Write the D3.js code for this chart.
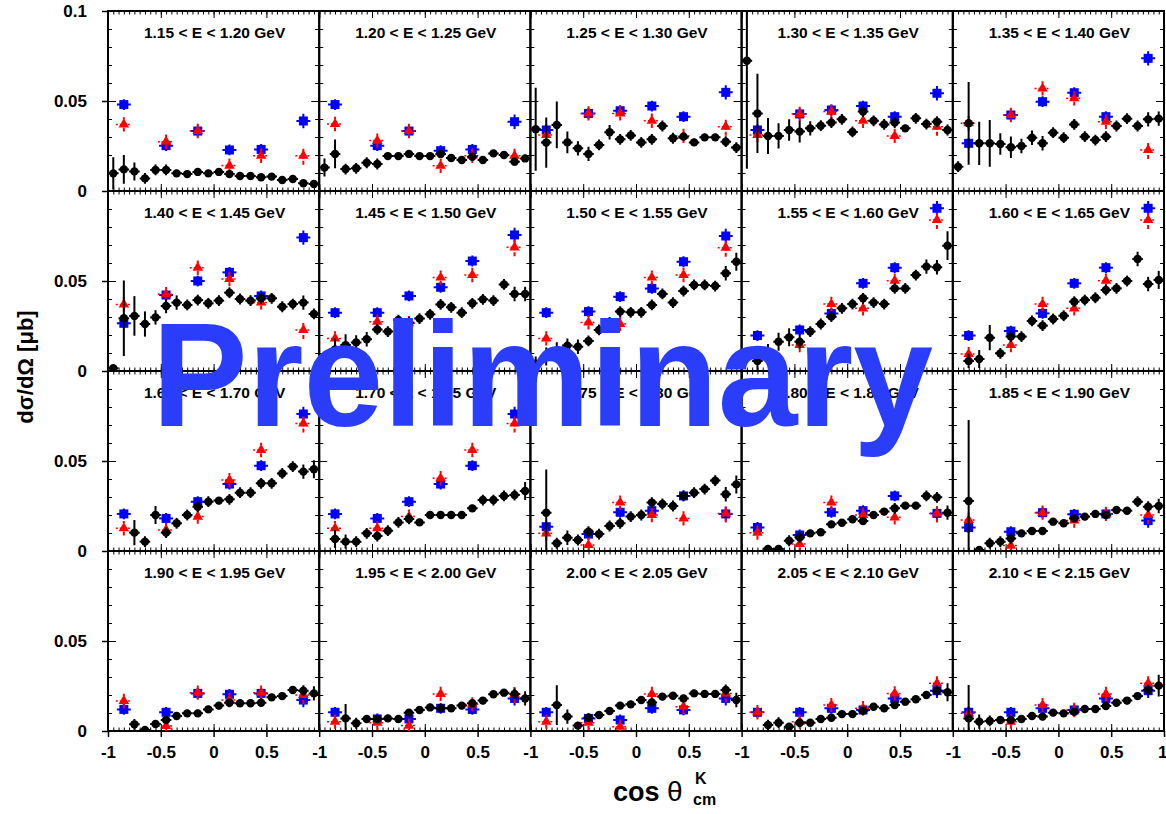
<!DOCTYPE html>
<html>
<head>
<meta charset="utf-8">
<script src="https://cdn.jsdelivr.net/npm/d3@7"></script>
<style>
  body { margin: 0; background: #fff; }
  svg text { font-family: "Liberation Sans", Arial, Helvetica, sans-serif; font-weight: bold; }
</style>
</head>
<body>
<svg id="chart" width="1166" height="814"></svg>
<script>

// Energy bins, one per pad
const energyBins = [
  "1.15 < E < 1.20 GeV", "1.20 < E < 1.25 GeV", "1.25 < E < 1.30 GeV", "1.30 < E < 1.35 GeV", "1.35 < E < 1.40 GeV",
  "1.40 < E < 1.45 GeV", "1.45 < E < 1.50 GeV", "1.50 < E < 1.55 GeV", "1.55 < E < 1.60 GeV", "1.60 < E < 1.65 GeV",
  "1.65 < E < 1.70 GeV", "1.70 < E < 1.75 GeV", "1.75 < E < 1.80 GeV", "1.80 < E < 1.85 GeV", "1.85 < E < 1.90 GeV",
  "1.90 < E < 1.95 GeV", "1.95 < E < 2.00 GeV", "2.00 < E < 2.05 GeV", "2.05 < E < 2.10 GeV", "2.10 < E < 2.15 GeV"
];

// cos theta bin centres
const cosFine = [ -0.95, -0.85, -0.75, -0.65, -0.55, -0.45, -0.35, -0.25, -0.15, -0.05,
                  0.05, 0.15, 0.25, 0.35, 0.45, 0.55, 0.65, 0.75, 0.85, 0.95 ];
const cosCoarse = [ -0.85, -0.45, -0.15, 0.15, 0.45, 0.85 ];
const cosHalfWidth = 0.05;

// black points (this measurement)
const blackValues = [
  [0.0098,0.012,0.0109,0.007,0.0117,0.0117,0.0098,0.0094,0.0106,0.0098,0.0106,0.0094,0.0083,0.0083,0.0076,0.008,0.0061,0.0067,0.0043,0.0039],
  [0.013,0.0206,0.0122,0.0126,0.0157,0.015,0.0194,0.0194,0.0206,0.0194,0.0194,0.0206,0.0183,0.0172,0.019,0.0172,0.0209,0.02,0.0163,0.0181],
  [0.0343,0.0269,0.0367,0.027,0.0237,0.0206,0.0256,0.0326,0.0287,0.0309,0.027,0.0287,0.0361,0.0293,0.0302,0.027,0.0298,0.0298,0.0274,0.0241],
  [0.0724,0.0431,0.0306,0.0306,0.0339,0.033,0.0348,0.0363,0.038,0.0398,0.0328,0.0441,0.039,0.037,0.038,0.0348,0.0404,0.0372,0.0385,0.0339],
  [0.0135,0.0376,0.0265,0.0265,0.0261,0.0243,0.025,0.0296,0.0265,0.0324,0.0296,0.037,0.0302,0.0283,0.0302,0.0361,0.0402,0.0361,0.0398,0.0402],
  [0.0015,0.0293,0.0306,0.0261,0.0298,0.0361,0.038,0.0367,0.0394,0.0376,0.0391,0.0435,0.04,0.0391,0.0404,0.0404,0.0357,0.0372,0.038,0.0317],
  [0.0,0.012,0.0144,0.0159,0.0176,0.0231,0.0219,0.0283,0.027,0.0291,0.0315,0.037,0.0354,0.0324,0.0376,0.0398,0.0391,0.0481,0.0428,0.0428],
  [0.004,0.008,0.011,0.0141,0.0135,0.0167,0.0228,0.027,0.033,0.0326,0.0326,0.0367,0.0428,0.038,0.0444,0.0478,0.0478,0.0472,0.0543,0.0607],
  [null,0.0056,0.01,0.0163,0.0187,0.0163,0.0219,0.0261,0.0302,0.0348,0.0372,0.0404,0.038,0.0372,0.0459,0.0459,0.0533,0.058,0.0576,0.0696],
  [null,0.0056,0.0067,0.0185,0.0098,0.0191,0.0191,0.0278,0.0252,0.0289,0.0307,0.0385,0.0394,0.0407,0.045,0.0459,0.05,0.0622,0.0483,0.0506],
  [null,null,0.0102,0.0052,0.02,0.0102,0.0154,0.02,0.0246,0.0274,0.028,0.0287,0.0324,0.0324,0.0376,0.0376,0.0431,0.0469,0.0441,0.0454],
  [null,0.0067,0.0052,0.0052,0.0098,0.0083,0.0113,0.0159,0.0178,0.0159,0.02,0.02,0.02,0.02,0.0237,0.0283,0.0283,0.0306,0.0311,0.0333],
  [null,0.0213,0.0043,0.0074,0.0061,0.0107,0.0094,0.0139,0.0154,0.0191,0.02,0.0269,0.0261,0.025,0.0306,0.0324,0.0344,0.0391,0.0315,0.037],
  [null,null,0.0011,0.0011,0.0057,0.0076,0.0098,0.0104,0.0148,0.0157,0.0176,0.0167,0.02,0.0219,0.0237,0.0252,0.0252,0.0306,0.0298,0.0213],
  [null,0.0278,0.0006,0.0043,0.0052,0.007,0.0098,0.0111,0.0111,0.0163,0.0154,0.0181,0.0191,0.0206,0.02,0.0228,0.0224,0.0274,0.0246,0.025],
  [null,null,0.0037,0.0006,0.0039,0.0061,0.0083,0.0098,0.0098,0.012,0.0141,0.0157,0.0154,0.0154,0.0157,0.0187,0.0194,0.0228,0.0224,0.0209],
  [null,null,0.007,0.0043,0.0067,0.0067,0.007,0.0067,0.0102,0.0117,0.0131,0.0126,0.0126,0.0141,0.0154,0.0169,0.0204,0.0213,0.0206,0.0181],
  [null,null,0.0144,0.008,0.003,0.0074,0.0089,0.0111,0.0141,0.0148,0.0172,0.0159,0.0191,0.0196,0.0181,0.0209,0.0206,0.0206,0.0228,0.0172],
  [null,null,0.0033,0.0046,0.0024,0.0046,0.0046,0.0067,0.0074,0.0094,0.0094,0.0113,0.0135,0.0126,0.0144,0.0163,0.0176,0.02,0.0224,0.0215],
  [null,0.007,0.0052,0.0056,0.0061,0.0061,0.0067,0.0083,0.008,0.0102,0.0098,0.0107,0.0122,0.0122,0.0139,0.0157,0.0169,0.0194,0.0228,0.0252]
];

const blackErrors = [
  [0.009,0.008,0.005,0.003,0.003,0.003,0.002,0.002,0.002,0.0015,0.0015,0.0015,0.0015,0.0015,0.0015,0.0015,0.0015,0.0015,0.0015,0.0015],
  [0.005,0.008,0.003,0.003,0.003,0.003,0.002,0.002,0.002,0.002,0.002,0.002,0.002,0.002,0.002,0.002,0.002,0.002,0.002,0.002],
  [0.023,0.014,0.013,0.006,0.004,0.004,0.003,0.004,0.003,0.003,0.003,0.003,0.003,0.003,0.002,0.002,0.002,0.002,0.003,0.003],
  [0.06,0.022,0.01,0.007,0.006,0.006,0.004,0.003,0.003,0.003,0.003,0.003,0.003,0.003,0.003,0.002,0.003,0.003,0.003,0.003],
  [0.003,0.023,0.012,0.013,0.006,0.006,0.004,0.004,0.004,0.003,0.003,0.003,0.003,0.003,0.003,0.003,0.003,0.003,0.004,0.004],
  [0.002,0.021,0.011,0.007,0.004,0.004,0.004,0.003,0.003,0.003,0.003,0.003,0.003,0.003,0.003,0.003,0.003,0.003,0.004,0.003],
  [0.002,0.006,0.006,0.004,0.004,0.003,0.003,0.003,0.003,0.003,0.003,0.003,0.003,0.003,0.003,0.003,0.003,0.003,0.004,0.004],
  [0.004,0.005,0.005,0.004,0.004,0.003,0.003,0.003,0.003,0.003,0.003,0.003,0.003,0.003,0.003,0.003,0.003,0.003,0.004,0.005],
  [0,0.005,0.005,0.005,0.005,0.004,0.003,0.003,0.003,0.003,0.003,0.003,0.003,0.003,0.003,0.003,0.003,0.004,0.004,0.008],
  [0,0.004,0.005,0.007,0.003,0.003,0.003,0.003,0.003,0.003,0.003,0.003,0.003,0.003,0.003,0.003,0.003,0.004,0.004,0.005],
  [0,0,0.007,0.003,0.005,0.003,0.003,0.003,0.003,0.003,0.002,0.003,0.003,0.003,0.003,0.003,0.003,0.003,0.004,0.005],
  [0,0.005,0.004,0.003,0.003,0.003,0.003,0.003,0.003,0.002,0.002,0.002,0.002,0.002,0.002,0.003,0.003,0.003,0.003,0.005],
  [0,0.024,0.003,0.004,0.003,0.003,0.003,0.003,0.003,0.003,0.003,0.003,0.003,0.003,0.003,0.003,0.003,0.003,0.004,0.005],
  [0,0,0.002,0.002,0.003,0.003,0.002,0.002,0.002,0.002,0.002,0.002,0.002,0.002,0.003,0.002,0.002,0.003,0.003,0.004],
  [0,0.045,0.002,0.003,0.003,0.003,0.002,0.002,0.002,0.002,0.002,0.002,0.002,0.002,0.002,0.002,0.002,0.003,0.003,0.004],
  [0,0,0.003,0.002,0.002,0.002,0.002,0.002,0.002,0.002,0.002,0.002,0.002,0.002,0.002,0.002,0.002,0.002,0.003,0.004],
  [0,0,0.008,0.003,0.002,0.002,0.002,0.002,0.002,0.002,0.002,0.002,0.002,0.002,0.002,0.002,0.002,0.002,0.003,0.004],
  [0,0,0.011,0.004,0.002,0.002,0.002,0.002,0.002,0.002,0.002,0.002,0.002,0.002,0.002,0.002,0.002,0.002,0.003,0.004],
  [0,0,0.003,0.003,0.002,0.002,0.002,0.002,0.002,0.002,0.002,0.002,0.002,0.002,0.002,0.002,0.002,0.002,0.003,0.005],
  [0,0.0185,0.004,0.003,0.002,0.002,0.002,0.002,0.002,0.002,0.002,0.002,0.002,0.002,0.002,0.002,0.002,0.002,0.003,0.006]
];

// blue squares
const blueValues = [
  [0.048,0.0252,0.0333,0.0228,0.0231,0.0389],
  [0.048,0.0252,0.0333,0.0224,0.0231,0.0385],
  [0.0339,0.0431,0.0446,0.0472,0.0413,0.0548],
  [0.0339,0.0428,0.045,0.0472,0.0413,0.0543],
  [0.0265,0.0422,0.0496,0.0546,0.0413,0.0737],
  [0.0265,0.0422,0.05,0.0548,0.0417,0.0741],
  [0.0324,0.0324,0.0417,0.0465,0.0611,0.0756],
  [0.0324,0.033,0.0413,0.0459,0.0607,0.075],
  [0.0197,0.0228,0.032,0.0487,0.0574,0.0904],
  [0.0197,0.0222,0.032,0.0487,0.0574,0.0904],
  [0.0206,0.0181,0.0274,0.0372,0.0474,0.0761],
  [0.0206,0.0181,0.0274,0.0372,0.0474,0.0761],
  [0.0135,0.0094,0.0215,0.0224,0.0306,0.0206],
  [0.0131,0.0089,0.0215,0.0224,0.0306,0.0209],
  [0.013,0.0107,0.0213,0.0204,0.0206,0.0169],
  [0.012,0.0104,0.0209,0.0204,0.0209,0.0172],
  [0.0104,0.0067,0.0067,0.0126,0.012,0.0181],
  [0.0104,0.007,0.0061,0.0126,0.0117,0.0181],
  [0.0104,0.0104,0.0126,0.0117,0.0181,0.0224],
  [0.0104,0.0104,0.0126,0.0117,0.0181,0.0224]
];
const blueErrors = [ 0.003, 0.003, 0.003, 0.003, 0.003, 0.004 ];

// red triangles
const redValues = [
  [0.037,0.0274,0.0333,0.0141,0.0196,0.0196],
  [0.0372,0.028,0.0333,0.014,0.0196,0.0196],
  [0.0311,0.0431,0.0431,0.039,0.0306,0.0357],
  [0.0311,0.0428,0.0441,0.039,0.0306,0.0357],
  [0.0376,0.0422,0.057,0.0515,0.0385,0.0228],
  [0.037,0.0426,0.0574,0.0511,0.0381,0.0228],
  [0.0181,0.0274,0.0265,0.0519,0.0533,0.0687],
  [0.0181,0.027,0.0261,0.0519,0.0533,0.0685],
  [0.0094,0.0144,0.0372,0.0348,0.0502,0.0839],
  [0.0094,0.0144,0.0372,0.0348,0.0502,0.0839],
  [0.0126,0.0117,0.0191,0.0394,0.0561,0.0709],
  [0.0126,0.0126,0.0191,0.0404,0.0561,0.0709],
  [0.0098,0.0033,0.0269,0.02,0.0181,0.0209],
  [0.0102,0.0039,0.0269,0.02,0.0187,0.0209],
  [0.0172,0.003,0.0213,0.0169,0.0206,0.02],
  [0.0167,0.0028,0.0213,0.0172,0.0213,0.02],
  [0.0052,0.0046,0.003,0.0206,0.0148,0.0206],
  [0.0052,0.0046,0.0024,0.0206,0.0135,0.0209],
  [0.0104,0.0052,0.0144,0.0126,0.0209,0.0265],
  [0.0098,0.0052,0.0144,0.0117,0.0206,0.0265]
];
const redErrors = [ 0.004, 0.004, 0.004, 0.004, 0.004, 0.005 ];

// tick labels
const xTickLabels = [ -1, -0.5, 0, 0.5 ];
const yTickLabels = [ 0, 0.05, 0.1 ];

// layout
const padLeft = 108, padTop = 11, padWidth = 211.2, padHeight = 180, nCols = 5;

const svg = d3.select( "#chart" );

function xScale( col ) {
  return d3.scaleLinear()
    .domain( [ -1, 1 ] )
    .range( [ padLeft + col * padWidth, padLeft + ( col + 1 ) * padWidth ] );
}

function yScale( row ) {
  return d3.scaleLinear()
    .domain( [ 0, 0.1 ] )
    .range( [ padTop + ( row + 1 ) * padHeight, padTop + row * padHeight ] );
}

function tickRow( g, axis, values, size ) {
  g.call( axis.tickValues( values ).tickSize( size ).tickSizeOuter( 0 ).tickFormat( "" ) );
  g.select( ".domain" ).remove();
  g.selectAll( "line" ).attr( "stroke", "#000" ).attr( "stroke-width", 1 );
}

const xMinor = d3.range( -20, 21 ).map( i => i / 20 );
const xMajor = [ -1, -0.5, 0, 0.5, 1 ];
const yMinor = d3.range( 0, 11 ).map( i => i / 100 );
const yMajor = [ 0, 0.05, 0.1 ];

const defs = svg.append( "defs" );

energyBins.forEach( ( label, p ) => {

  const col = p % nCols;
  const row = Math.floor( p / nCols );
  const x = xScale( col );
  const y = yScale( row );
  const x0 = x.range()[ 0 ], x1 = x.range()[ 1 ];
  const y0 = y.range()[ 1 ], y1 = y.range()[ 0 ];

  defs.append( "clipPath" )
    .attr( "id", "clip" + p )
    .append( "rect" )
      .attr( "x", x0 ).attr( "y", y0 )
      .attr( "width", x1 - x0 ).attr( "height", y1 - y0 );

  const pad = svg.append( "g" ).attr( "class", "pad" );

  // Drawing inner ticks on the four sides

  tickRow( pad.append( "g" ).attr( "transform", `translate(0,${ y1 })` ), d3.axisBottom( x ), xMinor, -3.5 );
  tickRow( pad.append( "g" ).attr( "transform", `translate(0,${ y1 })` ), d3.axisBottom( x ), xMajor, -7 );
  tickRow( pad.append( "g" ).attr( "transform", `translate(0,${ y0 })` ), d3.axisTop( x ), xMinor, -3.5 );
  tickRow( pad.append( "g" ).attr( "transform", `translate(0,${ y0 })` ), d3.axisTop( x ), xMajor, -7 );
  tickRow( pad.append( "g" ).attr( "transform", `translate(${ x0 },0)` ), d3.axisLeft( y ), yMinor, -4 );
  tickRow( pad.append( "g" ).attr( "transform", `translate(${ x0 },0)` ), d3.axisLeft( y ), yMajor, -8 );
  tickRow( pad.append( "g" ).attr( "transform", `translate(${ x1 },0)` ), d3.axisRight( y ), yMinor, -4 );
  tickRow( pad.append( "g" ).attr( "transform", `translate(${ x1 },0)` ), d3.axisRight( y ), yMajor, -8 );

  // Drawing the frame

  pad.append( "rect" )
    .attr( "x", x0 ).attr( "y", y0 )
    .attr( "width", x1 - x0 ).attr( "height", y1 - y0 )
    .attr( "fill", "none" )
    .attr( "stroke", "#000" )
    .attr( "stroke-width", 2 );

  // Energy label

  pad.append( "text" )
    .attr( "x", ( x0 + x1 ) / 2 + 1 )
    .attr( "y", y0 + 27 )
    .attr( "text-anchor", "middle" )
    .style( "font-size", "15.5px" )
    .text( label );

  const plot = pad.append( "g" ).attr( "clip-path", `url(#clip${ p })` );

  // Drawing blue squares

  const blue = plot.selectAll( "g.blue" )
    .data( cosCoarse.map( ( c, i ) => ( { c: c, v: blueValues[ p ][ i ], e: blueErrors[ i ] } ) ) )
    .enter().append( "g" )
      .attr( "class", "blue" );

  blue.append( "line" )
    .attr( "x1", d => x( d.c ) ).attr( "x2", d => x( d.c ) )
    .attr( "y1", d => y( d.v - d.e ) ).attr( "y2", d => y( d.v + d.e ) )
    .attr( "stroke", "#0000ff" ).attr( "stroke-width", 2 );

  blue.append( "line" )
    .attr( "x1", d => x( d.c ) - 7 ).attr( "x2", d => x( d.c ) + 7 )
    .attr( "y1", d => y( d.v ) ).attr( "y2", d => y( d.v ) )
    .attr( "stroke", "#0000ff" ).attr( "stroke-width", 2 );

  blue.append( "rect" )
    .attr( "x", d => x( d.c ) - 4.5 ).attr( "y", d => y( d.v ) - 4.5 )
    .attr( "width", 9 ).attr( "height", 9 )
    .attr( "fill", "#0000ff" );

  // Drawing red triangles

  const red = plot.selectAll( "g.red" )
    .data( cosCoarse.map( ( c, i ) => ( { c: c, v: redValues[ p ][ i ], e: redErrors[ i ] } ) ) )
    .enter().append( "g" )
      .attr( "class", "red" );

  red.append( "line" )
    .attr( "x1", d => x( d.c ) ).attr( "x2", d => x( d.c ) )
    .attr( "y1", d => y( d.v - d.e ) ).attr( "y2", d => y( d.v + d.e ) )
    .attr( "stroke", "#ff0000" ).attr( "stroke-width", 2 )
    .attr( "stroke-dasharray", "4,2" );

  red.append( "line" )
    .attr( "x1", d => x( d.c ) - 8 ).attr( "x2", d => x( d.c ) + 8 )
    .attr( "y1", d => y( d.v ) ).attr( "y2", d => y( d.v ) )
    .attr( "stroke", "#ff0000" ).attr( "stroke-width", 1.5 )
    .attr( "stroke-dasharray", "2,2" );

  red.append( "path" )
    .attr( "transform", d => `translate(${ x( d.c ) },${ y( d.v ) })` )
    .attr( "d", d3.symbol( d3.symbolTriangle, 48 ) )
    .attr( "fill", "#ff0000" );

  // Drawing black points

  const black = plot.selectAll( "g.black" )
    .data( cosFine.map( ( c, i ) => ( { c: c, v: blackValues[ p ][ i ], e: blackErrors[ p ][ i ] } ) )
      .filter( d => d.v !== null ) )
    .enter().append( "g" )
      .attr( "class", "black" );

  black.append( "line" )
    .attr( "x1", d => x( d.c ) ).attr( "x2", d => x( d.c ) )
    .attr( "y1", d => y( d.v - d.e ) ).attr( "y2", d => y( d.v + d.e ) )
    .attr( "stroke", "#000" ).attr( "stroke-width", 2 );

  black.append( "line" )
    .attr( "x1", d => x( d.c - cosHalfWidth ) ).attr( "x2", d => x( d.c + cosHalfWidth ) )
    .attr( "y1", d => y( d.v ) ).attr( "y2", d => y( d.v ) )
    .attr( "stroke", "#000" ).attr( "stroke-width", 2 );

  black.append( "circle" )
    .attr( "cx", d => x( d.c ) ).attr( "cy", d => y( d.v ) )
    .attr( "r", 4.2 )
    .attr( "fill", "#000" );

  // Axis labels on the outer pads

  if( col === 0 ) {
    const yAxis = svg.append( "g" )
      .attr( "transform", `translate(${ x0 },0)` )
      .call( d3.axisLeft( y )
        .tickValues( row === 0 ? yTickLabels : yTickLabels.slice( 0, 2 ) )
        .tickSize( 6 ).tickSizeOuter( 0 ).tickPadding( 15 )
        .tickFormat( d => String( d ) ) );
    yAxis.select( ".domain" ).remove();
    yAxis.selectAll( "line" ).attr( "stroke-width", 1.5 );
    yAxis.selectAll( "text" ).style( "font-size", "17px" ).attr( "fill", "#000" );
  }

  if( row === 3 ) {
    const xAxis = svg.append( "g" )
      .attr( "transform", `translate(0,${ y1 })` )
      .call( d3.axisBottom( x )
        .tickValues( col === nCols - 1 ? xTickLabels.concat( [ 1 ] ) : xTickLabels )
        .tickSize( 6 ).tickSizeOuter( 0 ).tickPadding( 9 )
        .tickFormat( d => String( d ) ) );
    xAxis.select( ".domain" ).remove();
    xAxis.selectAll( "line" ).attr( "stroke-width", 1.5 );
    xAxis.selectAll( "text" ).style( "font-size", "17px" ).attr( "fill", "#000" );
    // keep the last "1" inside the picture
    xAxis.selectAll( "text" ).filter( d => d === 1 )
      .attr( "text-anchor", "end" )
      .attr( "x", 3 );
  }

} );

// Axis titles

svg.append( "text" )
  .attr( "transform", "translate(33,367) rotate(-90)" )
  .attr( "text-anchor", "middle" )
  .style( "font-size", "22px" )
  .text( "dσ/dΩ [μb]" );

const xTitle = svg.append( "g" );

xTitle.append( "text" )
  .attr( "x", 613 ).attr( "y", 801 )
  .style( "font-size", "27px" )
  .text( "cos " )
  .append( "tspan" )
    .style( "font-weight", "normal" )
    .style( "font-size", "28px" )
    .text( "θ" );

xTitle.append( "text" )
  .attr( "x", 695 ).attr( "y", 784 )
  .style( "font-size", "16px" )
  .text( "K" );

xTitle.append( "text" )
  .attr( "x", 693 ).attr( "y", 805 )
  .style( "font-size", "16px" )
  .text( "cm" );

// Preliminary stamp

svg.append( "text" )
  .attr( "x", 152 ).attr( "y", 426 )
  .attr( "textLength", 781 )
  .attr( "lengthAdjust", "spacingAndGlyphs" )
  .attr( "fill", "#2a3dfb" )
  .style( "font-size", "148px" )
  .text( "Preliminary" );

</script>
</body>
</html>
